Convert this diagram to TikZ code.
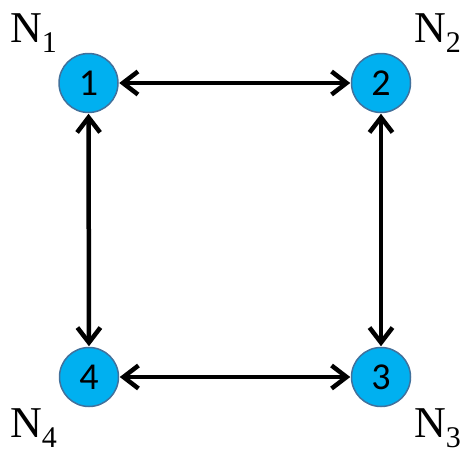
\documentclass[tikz,border=0pt]{standalone}
\usepackage{fontspec}
\setmainfont{Liberation Serif}
\newfontfamily\numfont{Carlito}
\usetikzlibrary{arrows.meta}
\definecolor{nodefill}{HTML}{00B0F0}
\definecolor{nodeedge}{HTML}{41719C}
\newcommand{\nlabel}[1]{{\fontsize{44}{44}\selectfont N}\raisebox{-10pt}{\fontsize{30}{30}\selectfont #1}}
\begin{document}
\begin{tikzpicture}[x=1pt,y=-1pt,
  station/.style={circle,draw=nodeedge,line width=1.5pt,fill=nodefill,minimum size=59pt,inner sep=0pt,font=\numfont\fontsize{38}{38}\selectfont},
  link/.style={line width=4.5pt,{Straight Barb[length=15pt,width=23pt,line width=4.5pt]}-{Straight Barb[length=15pt,width=23pt,line width=4.5pt]},shorten <=0.5pt,shorten >=0.5pt},
  lab/.style={anchor=base west,inner sep=0pt}]
\useasboundingbox (0,0) rectangle (470,455);
\node[station] (n1) at (88.5,83) {1};
\node[station] (n2) at (381,83) {2};
\node[station] (n3) at (381,377) {3};
\node[station] (n4) at (89,377) {4};
\draw[link] (n1) -- (n2);
\draw[link] (n2) -- (n3);
\draw[link] (n4) -- (n3);
\draw[link] (n1) -- (n4);
\node[lab] (l1) at (10,42) {\nlabel{1}};
\node[lab] (l2) at (414,42) {\nlabel{2}};
\node[lab] (l3) at (414,437) {\nlabel{3}};
\node[lab] (l4) at (10,437) {\nlabel{4}};
\end{tikzpicture}
\end{document}
